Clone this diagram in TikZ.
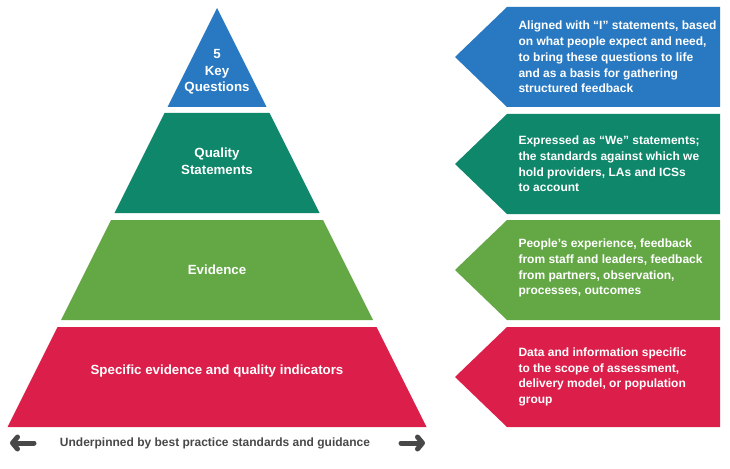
\documentclass[tikz,border=0pt]{standalone}
\usepackage{fontspec}
\setmainfont{Liberation Sans}
\usetikzlibrary{arrows.meta}
\definecolor{kqblue}{RGB}{40,121,193}
\definecolor{qsteal}{RGB}{14,135,106}
\definecolor{evgreen}{RGB}{100,168,70}
\definecolor{sered}{RGB}{220,30,74}
\definecolor{basegray}{RGB}{72,72,72}
\begin{document}
\begin{tikzpicture}[x=1pt,y=-1pt,
    tierlabel/.style={text=white,font=\bfseries\fontsize{13.3}{16.5}\selectfont,align=center},
    note/.style={text=white,font=\bfseries\fontsize{12}{15.8}\selectfont,align=left,anchor=west},
    sidearrow/.style={draw=basegray,line width=5pt,line cap=round,-{Straight Barb[length=5pt,width=12pt,round]}}]
  \path[use as bounding box] (0,0) rectangle (730,468);
  % pyramid
  \fill[kqblue] (217,8) -- ({217+0.5*99},107) -- ({217-0.5*99},107) -- cycle;
  \foreach \top/\bot/\col in {113/213/qsteal,220/320/evgreen,327/427/sered}
    \fill[\col] ({217-0.5*(\top-8)},\top) -- ({217+0.5*(\top-8)},\top)
      -- ({217+0.5*(\bot-8)},\bot) -- ({217-0.5*(\bot-8)},\bot) -- cycle;
  \node[tierlabel] (kq) at (217,72) {5\\Key\\Questions};
  \node[tierlabel] (qs) at (217,161) {Quality\\Statements};
  \node[tierlabel] (ev) at (217,270) {Evidence};
  \node[tierlabel] (se) at (217,371) {Specific evidence and quality indicators};
  % side boxes
  \foreach \top/\col in {7/kqblue,114/qsteal,220/evgreen,327/sered}
    \fill[\col] (455,{\top+50}) -- (507,\top) -- (720,\top) -- (720,{\top+100})
      -- (507,{\top+100}) -- cycle;
  \node[note] (kqnote) at (515,57) {Aligned with “I” statements, based\\on what people expect and need,\\to bring these questions to life\\and as a basis for gathering\\structured feedback};
  \node[note] (qsnote) at (515,164) {Expressed as “We” statements;\\the standards against which we\\hold providers, LAs and ICSs\\to account};
  \node[note] (evnote) at (515,268) {People’s experience, feedback\\from staff and leaders, feedback\\from partners, observation,\\processes, outcomes};
  \node[note] (senote) at (515,377) {Data and information specific\\to the scope of assessment,\\delivery model, or population\\group};
  % base
  \node[text=basegray,font=\bfseries\fontsize{12}{14}\selectfont] (base) at (215,443) {Underpinned by best practice standards and guidance};
  \coordinate (lstart) at (34,443);
  \coordinate (lend) at (10,443);
  \coordinate (rstart) at (401,443);
  \coordinate (rend) at (425,443);
  \draw[sidearrow] (lstart) -- (lend);
  \draw[sidearrow] (rstart) -- (rend);
\end{tikzpicture}
\end{document}
